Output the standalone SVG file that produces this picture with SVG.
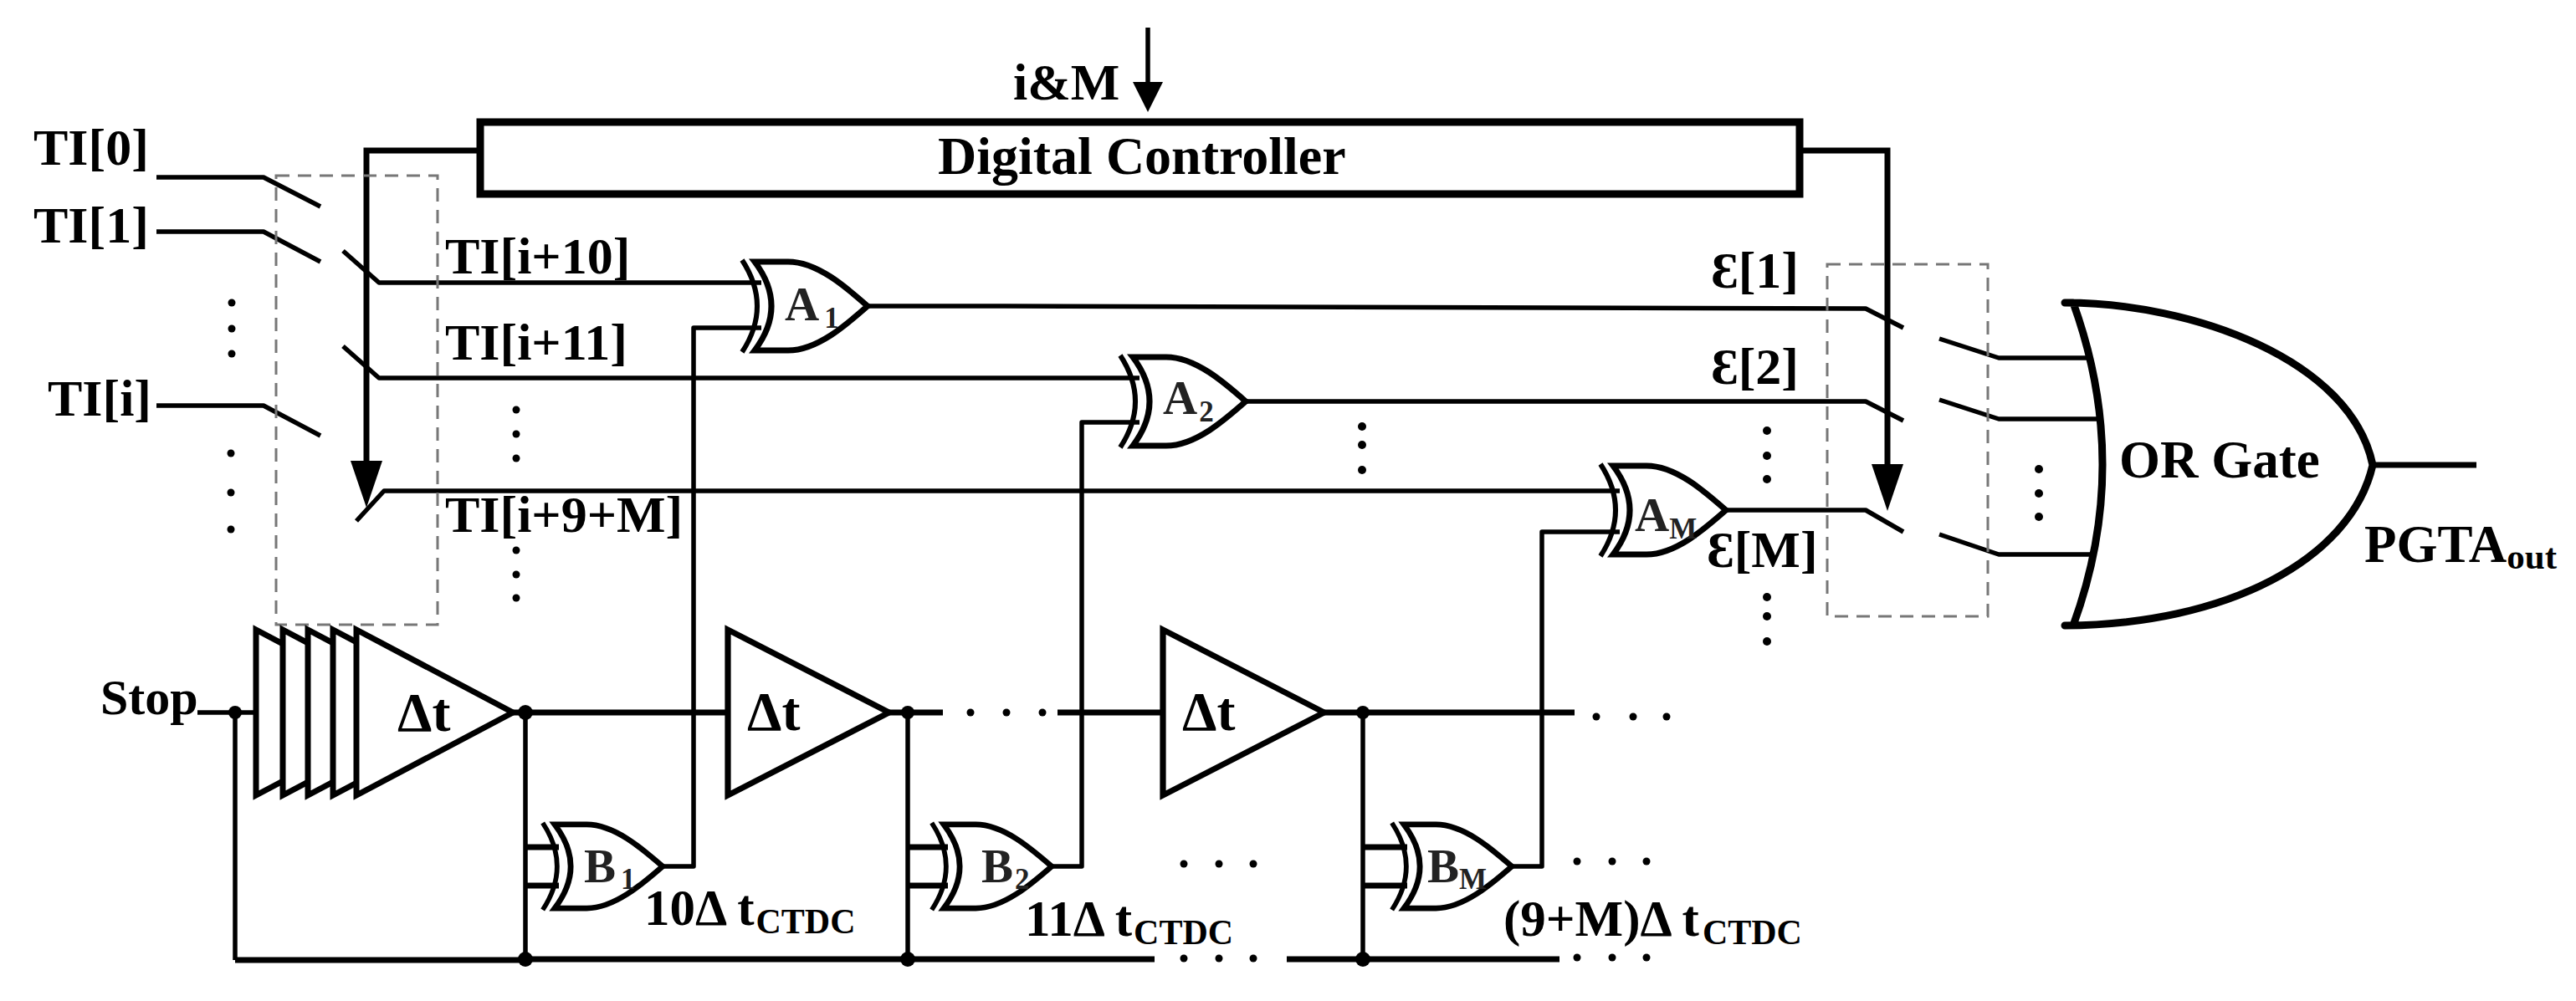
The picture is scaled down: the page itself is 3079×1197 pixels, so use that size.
<svg xmlns="http://www.w3.org/2000/svg" width="3079" height="1197" viewBox="0 0 3079 1197">
<style>
text{font-family:"Liberation Serif","Times New Roman",serif;font-weight:bold;fill:#000}
.l{font-size:62px}
.g{font-size:57px;fill:#222}
.d{font-size:66px}
.c{font-size:61px}
.w{fill:none;stroke:#000;stroke-width:5.5;stroke-linejoin:round}
.t{fill:none;stroke:#000;stroke-width:7;stroke-linejoin:miter}
.dash{fill:none;stroke:#777;stroke-width:3;stroke-dasharray:16 10}
.b{fill:#fff;stroke:#000;stroke-width:7;stroke-linejoin:miter}
.a{fill:none;stroke:#000;stroke-width:6}
.o{fill:#fff;stroke:#000;stroke-width:9;stroke-linejoin:round}
.dots circle{fill:#000}
</style>
<defs>
<marker id="big" markerUnits="userSpaceOnUse" markerWidth="56" markerHeight="38" viewBox="0 0 56 38" refX="30" refY="19" orient="auto"><path d="M0,0L56,19L0,38Z" fill="#000"/></marker>
<marker id="small" markerUnits="userSpaceOnUse" markerWidth="36" markerHeight="36" viewBox="0 0 36 36" refX="20" refY="18" orient="auto"><path d="M0,0L36,18L0,36Z" fill="#000"/></marker>
<g id="xor">
<path class="a" d="M-15,-55Q21,0 -15,55"/>
<path class="b" d="M0,-53H40C75,-53 110,-22 135,0C110,22 75,53 40,53H0Q40,0 0,-53Z"/>
</g>
<path id="tri" class="b" d="M0,-99L187,0L0,99Z"/>
</defs>
<rect width="3079" height="1197" fill="#fff"/>

<g id="connectors">
<path class="w" d="M1372,33V118" marker-end="url(#small)"/>
<path class="t" d="M574,180H438V581" marker-end="url(#big)"/>
<path class="t" d="M2151,180H2256V585" marker-end="url(#big)"/>
<path class="w" d="M187,212H315L383,247"/>
<path class="w" d="M187,277H315L383,313"/>
<path class="w" d="M187,485H315L383,521"/>
<path class="w" d="M410,300L453,338H910"/>
<path class="w" d="M410,414L453,452H1362"/>
<path class="w" d="M426,623L459,587H1936"/>
<path class="w" d="M910,392H829V1036H792"/>
<path class="w" d="M1362,505H1293V1036H1257"/>
<path class="w" d="M1936,636H1843V1036H1806"/>
<path class="w" d="M1037,366H1200L2230,369L2275,392"/>
<path class="w" d="M1489,480H2230L2275,503"/>
<path class="w" d="M2063,610H2230L2275,636"/>
<path class="w" d="M2318,405L2389,428H2505"/>
<path class="w" d="M2318,478L2389,501H2513"/>
<path class="w" d="M2318,639L2389,663H2505"/>
<path class="t" stroke-width="9" d="M2836,556H2960"/>
<path class="w" d="M236,852H306"/>
<path class="w" d="M281,852V1148"/>
<path class="t" d="M613,852H870"/>
<path class="t" d="M1062,852H1127"/>
<path class="t" d="M1264,852H1390"/>
<path class="t" d="M1583,852H1882"/>
<path class="w" d="M628,852V1147"/>
<path class="w" d="M1085,852V1147"/>
<path class="w" d="M1629,852V1147"/>
<path class="t" d="M628,1013H668M628,1059H668"/>
<path class="t" d="M1085,1013H1133M1085,1059H1133"/>
<path class="t" d="M1629,1013H1682M1629,1059H1682"/>
<path class="t" d="M281,1148H628"/>
<path class="t" stroke-width="9" d="M628,1147H1380"/>
<path class="t" stroke-width="9" d="M1538,1147H1864"/>
<circle cx="281" cy="852" r="8"/>
<circle cx="628" cy="852" r="9"/>
<circle cx="1085" cy="852" r="8"/>
<circle cx="1629" cy="852" r="8"/>
<circle cx="628" cy="1147" r="9"/>
<circle cx="1085" cy="1147" r="9"/>
<circle cx="1629" cy="1147" r="9"/>
</g>

<g id="switch-box-left"><rect class="dash" x="330" y="210" width="193" height="537"/></g>
<g id="switch-box-right"><rect class="dash" x="2184" y="316" width="192" height="421"/></g>

<g id="digital-controller">
<rect x="574" y="146" width="1577" height="86" fill="#fff" stroke="#000" stroke-width="9"/>
<text x="1121" y="208" font-size="64">Digital Controller</text>
</g>
<g id="input-i-m"><text x="1211" y="119" font-size="62">i&amp;M</text></g>

<g id="ti-labels">
<text class="l" x="40" y="197">TI[0]</text>
<text class="l" x="40" y="290">TI[1]</text>
<text class="l" x="57" y="497">TI[i]</text>
<text class="l" x="532" y="327">TI[i+10]</text>
<text class="l" x="532" y="430">TI[i+11]</text>
<text class="l" x="532" y="636">TI[i+9+M]</text>
</g>

<g id="gate-A1"><use href="#xor" transform="translate(902,366)"/><text class="g" x="938" y="383">A<tspan font-size="35" dy="9" dx="6">1</tspan></text></g>
<g id="gate-A2"><use href="#xor" transform="translate(1354,480)"/><text class="g" x="1390" y="495">A<tspan font-size="35" dy="9" dx="2">2</tspan></text></g>
<g id="gate-AM"><use href="#xor" transform="translate(1928,610)"/><text class="g" x="1954" y="635">A<tspan font-size="35" dy="9">M</tspan></text></g>
<g id="gate-B1"><use href="#xor" transform="translate(663,1036) scale(.955,.945)"/><text class="g" x="698" y="1055">B<tspan font-size="35" dy="8" dx="6">1</tspan></text></g>
<g id="gate-B2"><use href="#xor" transform="translate(1128,1036) scale(.955,.945)"/><text class="g" x="1173" y="1055">B<tspan font-size="35" dy="8" dx="2">2</tspan></text></g>
<g id="gate-BM"><use href="#xor" transform="translate(1678,1036) scale(.955,.945)"/><text class="g" x="1706" y="1055">B<tspan font-size="35" dy="8">M</tspan></text></g>

<g id="delay-chain-1">
<use href="#tri" transform="translate(306,852)"/>
<use href="#tri" transform="translate(338,852)"/>
<use href="#tri" transform="translate(368,852)"/>
<use href="#tri" transform="translate(398,852)"/>
<use href="#tri" transform="translate(426,852)"/>
<text class="d" x="475" y="874">Δt</text>
</g>
<g id="delay-2"><use href="#tri" transform="translate(870,852) scale(1.03,1)"/><text class="d" x="893" y="873">Δt</text></g>
<g id="delay-3"><use href="#tri" transform="translate(1390,852) scale(1.03,1)"/><text class="d" x="1413" y="873">Δt</text></g>

<g id="or-gate">
<path class="o" d="M2468,362C2620,362 2810,430 2836,556C2810,670 2660,747 2468,748H2478Q2548,556 2478,362Z"/>
<text x="2533" y="571" font-size="63">OR Gate</text>
</g>
<g id="output-label"><text x="2826" y="672" font-size="63">PGTA<tspan font-size="43" dy="8">out</tspan></text></g>
<g id="stop-label"><text x="120" y="854" font-size="60">Stop</text></g>

<g id="eps-labels">
<text class="l" x="2045" y="344">Ɛ[1]</text>
<text class="l" x="2045" y="459">Ɛ[2]</text>
<text class="l" x="2040" y="678">Ɛ[M]</text>
</g>

<g id="delay-labels">
<text class="c" x="770" y="1106">10Δ t<tspan font-size="42" dy="10" dx="2">CTDC</tspan></text>
<text class="c" x="1225" y="1119">11Δ t<tspan font-size="42" dy="10" dx="2">CTDC</tspan></text>
<text class="c" x="1797" y="1119">(9+M)Δ t<tspan font-size="42" dy="10" dx="4">CTDC</tspan></text>
</g>

<g id="dots" class="dots">
<circle cx="277" cy="362" r="4.5"/><circle cx="277" cy="393" r="4.5"/><circle cx="277" cy="423" r="4.5"/>
<circle cx="276" cy="542" r="4.5"/><circle cx="276" cy="589" r="4.5"/><circle cx="276" cy="633" r="4.5"/>
<circle cx="617" cy="490" r="4.5"/><circle cx="617" cy="519" r="4.5"/><circle cx="617" cy="548" r="4.5"/>
<circle cx="617" cy="658" r="4.5"/><circle cx="617" cy="687" r="4.5"/><circle cx="617" cy="715" r="4.5"/>
<circle cx="1628" cy="510" r="5"/><circle cx="1628" cy="532" r="5"/><circle cx="1628" cy="562" r="5"/>
<circle cx="2112" cy="515" r="5"/><circle cx="2112" cy="545" r="5"/><circle cx="2112" cy="573" r="5"/>
<circle cx="2112" cy="714" r="5"/><circle cx="2112" cy="737" r="5"/><circle cx="2112" cy="767" r="5"/>
<circle cx="2437" cy="561" r="5"/><circle cx="2437" cy="590" r="5"/><circle cx="2437" cy="618" r="5"/>
<circle cx="1160" cy="852" r="4.5"/><circle cx="1203" cy="852" r="4.5"/><circle cx="1246" cy="852" r="4.5"/>
<circle cx="1908" cy="857" r="4.5"/><circle cx="1952" cy="857" r="4.5"/><circle cx="1992" cy="857" r="4.5"/>
<circle cx="1415" cy="1033" r="4.5"/><circle cx="1457" cy="1033" r="4.5"/><circle cx="1498" cy="1033" r="4.5"/>
<circle cx="1885" cy="1030" r="4.5"/><circle cx="1927" cy="1030" r="4.5"/><circle cx="1968" cy="1030" r="4.5"/>
<circle cx="1415" cy="1146" r="4.5"/><circle cx="1457" cy="1146" r="4.5"/><circle cx="1498" cy="1146" r="4.5"/>
<circle cx="1885" cy="1145" r="4.5"/><circle cx="1927" cy="1145" r="4.5"/><circle cx="1968" cy="1145" r="4.5"/>
</g>
</svg>
